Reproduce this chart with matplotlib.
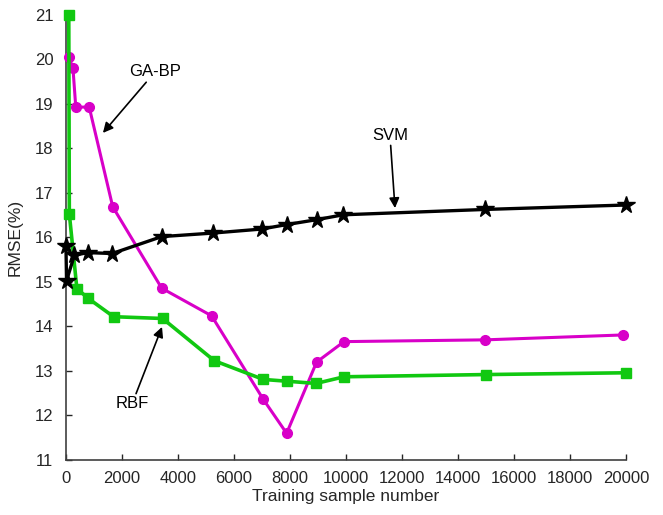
import numpy as np
import matplotlib
matplotlib.use("Agg")
import matplotlib.pyplot as plt

plt.rcParams['font.family'] = ['Liberation Sans', 'DejaVu Sans']

# GA-BP
bp_x = [100, 250, 350, 830, 1670, 3420, 5200, 7050, 7880, 8950, 9930, 14980, 19900]
bp_y = [20.06, 19.80, 18.93, 18.93, 16.69, 14.86, 14.24, 12.36, 11.60, 13.20, 13.66, 13.70, 13.81]

# RBF
rbf_x = [100, 120, 390, 800, 1700, 3450, 5300, 7050, 7900, 8930, 9930, 15000, 20000]
rbf_y = [21.0, 16.53, 14.85, 14.63, 14.22, 14.18, 13.23, 12.81, 12.77, 12.72, 12.87, 12.92, 12.96]

# SVM
svm_x = [0, 20, 300, 770, 1650, 3420, 5260, 6990, 7880, 8950, 9900, 14960, 20000]
svm_y = [15.80, 15.03, 15.60, 15.66, 15.64, 16.02, 16.10, 16.19, 16.29, 16.40, 16.51, 16.63, 16.73]

xticks = [0, 2000, 4000, 6000, 8000, 10000, 12000, 14000, 16000, 18000, 20000]
yticks = [11, 12, 13, 14, 15, 16, 17, 18, 19, 20, 21]

fig = plt.figure(figsize=(6.63, 5.15), dpi=100)
ax = fig.add_axes([0.0995, 0.1068, 0.8447, 0.8641])

ax.plot(bp_x, bp_y, color='#d800c8', lw=2.2, marker='o', ms=7, clip_on=False, zorder=3)
ax.plot(rbf_x, rbf_y, color='#11c811', lw=2.6, marker='s', ms=7, clip_on=False, zorder=4)
ax.plot(svm_x, svm_y, color='black', lw=2.4, marker='*', ms=13, clip_on=False, zorder=5)

ax.set_xlim(0, 20000)
ax.set_ylim(11, 21)
ax.set_xticks(xticks)
ax.set_yticks(yticks)
ax.tick_params(direction='in', length=4, labelsize=12, colors='#262626', width=1)
ax.tick_params(axis='x', pad=8)
ax.tick_params(axis='y', pad=9)
for s in ['top', 'right']:
    ax.spines[s].set_visible(False)
for s in ['left', 'bottom']:
    ax.spines[s].set_color('#404040')
    ax.spines[s].set_linewidth(1.2)

ax.set_xlabel('Training sample number', fontsize=12.5, color='#262626', labelpad=2)
ax.set_ylabel('RMSE(%)', fontsize=12.5, color='#262626', labelpad=9)

arrow = dict(arrowstyle='-|>', color='black', lw=1.2, mutation_scale=15, shrinkA=0, shrinkB=0)
ax.annotate('SVM', xy=(11750, 16.66), xytext=(11570, 18.30), ha='center', va='center',
            fontsize=12, arrowprops=arrow)
ax.annotate('GA-BP', xy=(1320, 18.35), xytext=(3180, 19.72), ha='center', va='center',
            fontsize=12, arrowprops=arrow)
ax.annotate('RBF', xy=(3430, 13.99), xytext=(2360, 12.26), ha='center', va='center',
            fontsize=12, arrowprops=arrow)

fig.savefig('out.png', dpi=100)
